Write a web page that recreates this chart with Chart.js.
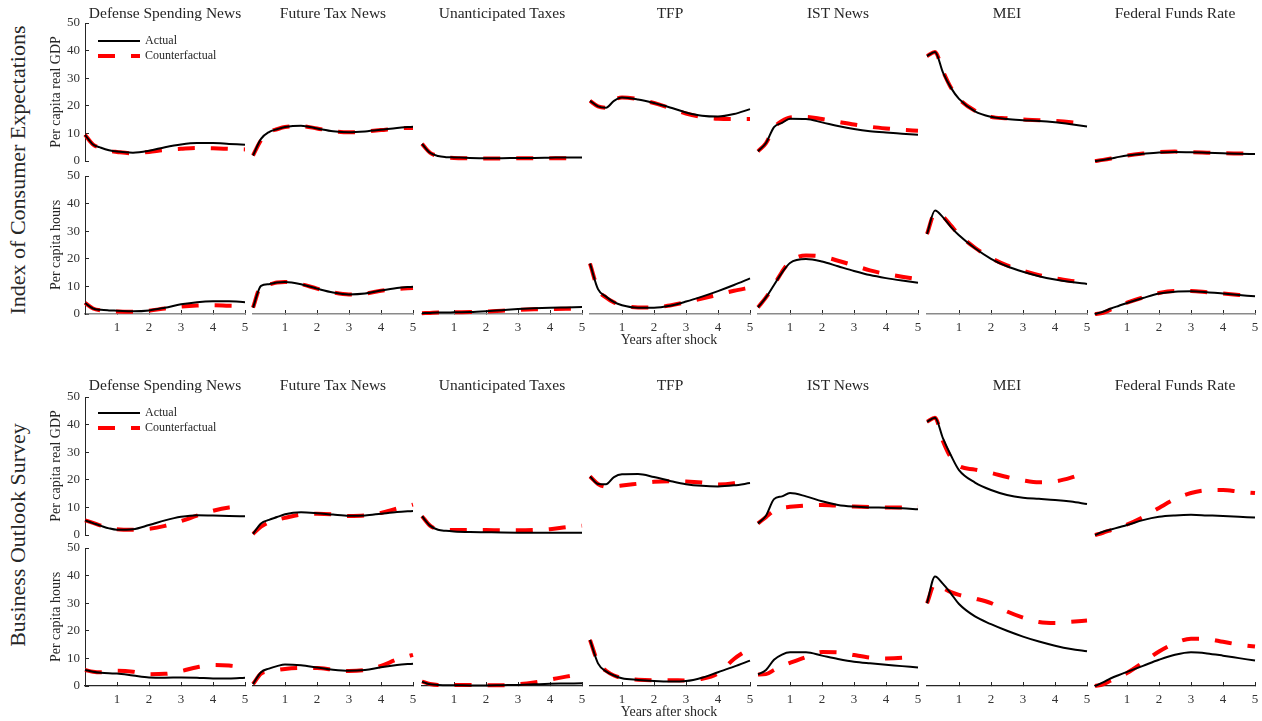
<!DOCTYPE html>
<html>
<head>
<meta charset="utf-8">
<script src="https://cdn.jsdelivr.net/npm/chart.js@4.4.1/dist/chart.umd.min.js"></script>
<style>
  body { margin: 0; background: #fff; width: 1262px; height: 721px; overflow: hidden; position: relative;
         font-family: "Liberation Serif", serif; color: #262626; }
  canvas { position: absolute; }
  .t { position: absolute; white-space: nowrap; transform: translate(-50%, -50%); }
  .v { transform: translate(-50%, -50%) rotate(-90deg); }
</style>
</head>
<body>
<script>
// quarters after the shock, in years
const years = [0, 0.25, 0.5, 0.75, 1, 1.5, 2, 2.5, 3, 3.5, 4, 4.5, 5];
const shocks = ['Defense Spending News', 'Future Tax News', 'Unanticipated Taxes', 'TFP', 'IST News', 'MEI', 'Federal Funds Rate'];
const surveys = ['Index of Consumer Expectations', 'Business Outlook Survey'];
const variables = ['Per capita real GDP', 'Per capita hours'];
const yTicks = [0, 10, 20, 30, 40, 50];
const xTicks = [1, 2, 3, 4, 5];

// Index of Consumer Expectations - GDP
const iceGdpActual = [
  [9.5, 6.0, 4.8, 3.9, 3.4, 3.0, 3.7, 5.0, 6.0, 6.5, 6.5, 6.2, 5.9],
  [2.0, 8.0, 10.5, 11.5, 12.3, 12.8, 11.8, 10.8, 10.4, 10.7, 11.3, 12.0, 12.4],
  [6.2, 3.0, 1.8, 1.4, 1.3, 1.1, 1.0, 1.0, 1.1, 1.1, 1.2, 1.3, 1.3],
  [21.8, 19.8, 19.3, 21.8, 23.0, 22.3, 21.0, 19.4, 17.6, 16.4, 16.1, 17.0, 18.8],
  [3.5, 6.5, 12.3, 13.8, 15.3, 15.2, 14.0, 12.7, 11.6, 10.8, 10.3, 9.9, 9.5],
  [38.0, 39.5, 32.0, 26.5, 22.5, 18.0, 16.0, 15.2, 14.8, 14.5, 14.0, 13.3, 12.5],
  [0, 0.4, 0.9, 1.5, 2.0, 2.6, 3.1, 3.3, 3.2, 3.0, 2.8, 2.6, 2.5]
];
const iceGdpCounter = [
  [9.5, 6.0, 4.7, 3.7, 3.3, 2.8, 3.3, 4.0, 4.4, 4.7, 4.6, 4.4, 4.2],
  [2.0, 7.5, 10.5, 11.5, 12.3, 12.6, 11.8, 10.8, 10.4, 10.7, 11.2, 11.8, 12.0],
  [6.2, 3.0, 1.8, 1.3, 1.1, 1.0, 0.9, 0.9, 1.0, 1.0, 1.0, 1.0, 1.0],
  [21.8, 19.8, 19.3, 22.0, 23.0, 22.4, 21.0, 19.2, 17.2, 15.9, 15.3, 15.2, 15.2],
  [3.5, 6.5, 12.0, 14.5, 15.8, 16.0, 15.2, 14.2, 13.2, 12.4, 11.8, 11.3, 11.0],
  [38.0, 39.5, 32.5, 26.5, 22.5, 18.2, 16.0, 15.5, 15.0, 14.8, 14.5, 14.0, 13.3],
  [0, 0.4, 0.9, 1.5, 2.0, 2.7, 3.2, 3.4, 3.2, 3.0, 2.8, 2.7, 2.6]
];
// Index of Consumer Expectations - hours
const iceHoursActual = [
  [4.0, 2.0, 1.5, 1.3, 1.2, 1.0, 1.3, 2.3, 3.5, 4.3, 4.6, 4.6, 4.3],
  [2.3, 10.2, 10.8, 11.4, 11.6, 10.8, 9.2, 7.8, 7.1, 7.4, 8.5, 9.4, 9.9],
  [0.3, 0.4, 0.5, 0.5, 0.6, 0.7, 1.0, 1.4, 1.8, 2.1, 2.3, 2.4, 2.5],
  [18.3, 9.0, 6.3, 4.3, 3.2, 2.3, 2.3, 3.0, 4.5, 6.3, 8.3, 10.5, 12.9],
  [2.4, 6.0, 10.5, 15.0, 18.5, 19.9, 19.0, 17.3, 15.6, 14.1, 13.0, 12.1, 11.3],
  [29.0, 37.5, 35.0, 31.5, 28.5, 23.8, 20.0, 17.3, 15.3, 13.7, 12.5, 11.6, 10.9],
  [0, 0.8, 2.0, 3.0, 4.0, 5.8, 7.4, 8.1, 8.2, 7.9, 7.4, 6.9, 6.4]
];
const iceHoursCounter = [
  [4.0, 2.0, 1.3, 1.1, 0.9, 0.8, 1.2, 2.0, 2.7, 3.1, 3.2, 3.0, 2.9],
  [2.3, 10.2, 10.8, 11.4, 11.6, 10.8, 9.2, 7.8, 7.1, 7.4, 8.4, 9.1, 9.4],
  [0.3, 0.4, 0.5, 0.5, 0.6, 0.7, 0.9, 1.2, 1.5, 1.7, 1.8, 1.9, 1.9],
  [18.3, 9.0, 6.0, 4.2, 3.2, 2.4, 2.4, 3.1, 4.3, 5.6, 7.0, 8.4, 9.6],
  [2.4, 6.0, 10.5, 15.3, 19.0, 21.2, 20.8, 19.3, 17.6, 15.8, 14.5, 13.5, 12.6],
  [29.0, 36.5, 35.3, 32.0, 28.8, 24.0, 20.3, 17.6, 15.7, 14.1, 12.9, 12.0, 11.2],
  [0, 0.4, 1.7, 3.0, 4.1, 6.0, 7.6, 8.3, 8.3, 7.9, 7.4, 6.9, 6.3]
];
// Business Outlook Survey - GDP
const bosGdpActual = [
  [5.3, 4.3, 3.3, 2.4, 1.9, 2.1, 3.6, 5.3, 6.6, 7.2, 7.1, 6.9, 6.8],
  [0.4, 4.2, 5.5, 6.5, 7.5, 8.2, 7.9, 7.4, 7.0, 7.1, 7.7, 8.3, 8.7],
  [6.8, 3.4, 1.9, 1.5, 1.3, 1.1, 1.0, 0.9, 0.85, 0.85, 0.85, 0.85, 0.85],
  [21.2, 18.5, 18.4, 21.0, 22.0, 22.1, 21.0, 19.6, 18.4, 17.8, 17.6, 18.0, 18.8],
  [4.2, 7.0, 13.0, 14.0, 15.2, 14.0, 12.2, 10.9, 10.3, 10.0, 9.9, 9.7, 9.3],
  [41.0, 42.5, 35.0, 28.8, 23.5, 19.0, 16.3, 14.5, 13.5, 13.1, 12.7, 12.1, 11.2],
  [0, 1.2, 2.0, 2.8, 3.6, 5.4, 6.6, 7.1, 7.3, 7.1, 6.9, 6.6, 6.3]
];
const bosGdpCounter = [
  [5.3, 4.4, 3.4, 2.6, 2.1, 1.9, 2.2, 3.3, 5.0, 7.0, 8.8, 10.0, 10.4],
  [0.4, 3.0, 4.6, 5.5, 6.2, 7.4, 7.7, 7.5, 6.9, 7.1, 8.0, 9.6, 11.0],
  [6.8, 3.4, 2.1, 1.9, 1.8, 1.8, 1.8, 1.7, 1.7, 1.8, 2.1, 2.8, 3.4],
  [21.2, 18.5, 17.5, 17.6, 17.9, 18.6, 19.3, 19.5, 19.4, 19.0, 18.3, 18.8, 20.2],
  [4.2, 6.5, 8.8, 9.8, 10.2, 10.7, 10.9, 10.6, 10.3, 10.1, 10.0, 10.0, 10.2],
  [41.0, 42.5, 34.0, 28.0, 25.0, 23.7, 22.5, 21.0, 19.8, 19.1, 19.4, 20.8, 22.8],
  [0, 0.8, 1.8, 2.8, 3.8, 6.5, 9.8, 13.0, 15.2, 16.2, 16.3, 15.7, 15.2]
];
// Business Outlook Survey - hours
const bosHoursActual = [
  [5.8, 5.2, 4.8, 4.6, 4.5, 3.8, 3.1, 3.0, 3.1, 3.0, 2.7, 2.7, 3.0],
  [0.7, 5.0, 6.3, 7.2, 7.8, 7.5, 6.7, 5.9, 5.5, 5.8, 6.8, 7.6, 8.1],
  [1.6, 0.6, 0.4, 0.3, 0.3, 0.2, 0.2, 0.3, 0.4, 0.6, 0.8, 0.9, 1.0],
  [16.7, 8.2, 5.3, 3.8, 2.8, 2.2, 1.8, 1.6, 1.8, 3.0, 5.0, 7.0, 9.2],
  [4.2, 5.8, 9.5, 11.4, 12.2, 12.2, 11.0, 9.8, 8.8, 8.2, 7.7, 7.2, 6.7],
  [30.0, 39.7, 37.0, 33.5, 29.7, 25.2, 22.4, 20.0, 17.9, 16.1, 14.6, 13.4, 12.6],
  [0, 1.3, 2.8, 4.0, 5.1, 7.3, 9.5, 11.3, 12.2, 11.8, 11.0, 10.1, 9.2]
];
const bosHoursCounter = [
  [5.8, 5.2, 5.0, 5.2, 5.5, 5.2, 4.3, 4.4, 5.4, 6.8, 7.6, 7.4, 6.8],
  [0.7, 4.5, 5.3, 5.8, 6.2, 6.5, 6.5, 5.9, 5.4, 5.8, 7.3, 9.6, 11.3],
  [1.6, 0.7, 0.4, 0.4, 0.4, 0.4, 0.3, 0.3, 0.6, 1.3, 2.3, 3.4, 4.4],
  [16.7, 8.5, 5.5, 3.8, 2.9, 2.3, 2.1, 2.1, 2.0, 2.6, 4.6, 9.8, 13.7],
  [4.2, 4.3, 5.8, 7.3, 8.4, 10.5, 12.3, 12.2, 11.2, 10.3, 10.0, 10.2, 10.8],
  [30.0, 37.0, 35.5, 34.0, 33.0, 31.7, 30.0, 27.0, 24.8, 23.2, 22.8, 23.3, 23.7],
  [0, 0.6, 2.0, 3.3, 4.7, 8.5, 12.5, 15.5, 17.1, 17.0, 16.0, 15.0, 14.3]
];

const actualRows = [[iceGdpActual, iceHoursActual], [bosGdpActual, bosHoursActual]];
const counterRows = [[iceGdpCounter, iceHoursCounter], [bosGdpCounter, bosHoursCounter]];

// layout (px)
const plotW = 160, plotH = 138;
const rowTop = [[23, 176], [397, 548]];
const panelLeft = c => Math.round(85 + 168.3 * c);
const xAxisColor = ['#8a8a8a', '#262626'];

function label(text, x, y, size, vertical) {
  const d = document.createElement('div');
  d.className = vertical ? 't v' : 't';
  d.textContent = text;
  d.style.left = x + 'px';
  d.style.top = y + 'px';
  d.style.fontSize = size + 'px';
  document.body.appendChild(d);
}

// legend drawn inside the first panel of each survey
const legendBox = {
  id: 'legendBox',
  afterDatasetsDraw(chart, args, opts) {
    const { ctx, chartArea: a } = chart;
    chart.data.datasets.forEach((ds, i) => {
      const y = a.top + opts.offset + i * 15;
      ctx.save();
      ctx.strokeStyle = ds.borderColor;
      ctx.lineWidth = ds.borderWidth;
      ctx.setLineDash(ds.borderDash || []);
      ctx.beginPath();
      ctx.moveTo(a.left + 13, y);
      ctx.lineTo(a.left + 55, y);
      ctx.stroke();
      ctx.setLineDash([]);
      ctx.fillStyle = '#262626';
      ctx.font = '12px "Liberation Serif"';
      ctx.textBaseline = 'middle';
      ctx.fillText(ds.label, a.left + 60, y);
      ctx.restore();
    });
  }
};

// pin a shown axis to a fixed size so every plot area lines up
const pinScale = (w, h) => s => {
  if (w !== null) s.width = w;
  if (h !== null) s.height = h;
  s.paddingLeft = s.paddingRight = s.paddingTop = s.paddingBottom = 0;
};

function makePanel(g, r, c) {
  const first = c === 0, bottom = r === 1;
  const padL = first ? 40 : 6, padR = 6, padT = 8, padB = bottom ? 24 : 6;
  const cv = document.createElement('canvas');
  cv.width = plotW + padL + padR;
  cv.height = plotH + padT + padB;
  cv.style.left = (panelLeft(c) - padL) + 'px';
  cv.style.top = (rowTop[g][r] - padT) + 'px';
  document.body.appendChild(cv);

  const act = actualRows[g][r][c], cf = counterRows[g][r][c];
  new Chart(cv, {
    type: 'line',
    data: {
      datasets: [
        { label: 'Actual', data: years.map((x, i) => ({ x, y: act[i] })),
          borderColor: '#000000', borderWidth: 2, clip: false },
        { label: 'Counterfactual', data: years.map((x, i) => ({ x, y: cf[i] })),
          borderColor: '#ff0000', borderWidth: 4, borderDash: [17, 16], clip: false }
      ]
    },
    options: {
      responsive: false,
      animation: false,
      events: [],
      layout: { autoPadding: false,
                padding: { left: first ? 0 : padL, right: padR, top: padT, bottom: bottom ? 0 : padB } },
      elements: { point: { radius: 0 }, line: { cubicInterpolationMode: 'monotone' } },
      plugins: {
        legend: { display: false },
        tooltip: { enabled: false },
        legendBox: { offset: g === 0 ? 18 : 16 }
      },
      scales: {
        x: {
          type: 'linear', min: 0, max: 5, display: bottom,
          afterBuildTicks: s => { s.ticks = xTicks.map(v => ({ value: v })); },
          afterFit: bottom ? pinScale(null, padB) : undefined,
          border: { display: true, color: xAxisColor[g], width: g === 0 ? 1.6 : 1.2 },
          grid: { drawOnChartArea: false, drawTicks: true, tickLength: -4, color: '#262626' },
          ticks: { color: '#333', font: { family: 'Liberation Serif', size: 13 }, padding: 10, maxRotation: 0 }
        },
        y: {
          min: 0, max: 50, display: first,
          afterBuildTicks: s => { s.ticks = yTicks.map(v => ({ value: v })); },
          afterFit: first ? pinScale(padL, null) : undefined,
          border: { display: true, color: '#262626', width: 1 },
          grid: { drawOnChartArea: false, drawTicks: true, tickLength: -4, color: '#262626' },
          ticks: { color: '#333', font: { family: 'Liberation Serif', size: 13 }, padding: 9 }
        }
      }
    },
    plugins: (r === 0 && c === 0) ? [legendBox] : []
  });
}

for (let g = 0; g < 2; g++) {
  for (let r = 0; r < 2; r++) {
    for (let c = 0; c < shocks.length; c++) makePanel(g, r, c);
  }
}

// text around the panels
const titleY = [13, 385], groupY = [170, 535], yearsY = [340, 712];
for (let g = 0; g < 2; g++) {
  shocks.forEach((s, c) => label(s, panelLeft(c) + plotW / 2, titleY[g], 15.5));
  label(surveys[g], 18, groupY[g], 22, true);
  variables.forEach((v, r) => label(v, 56, rowTop[g][r] + plotH / 2, 14, true));
  label('Years after shock', 669, yearsY[g], 14);
}
</script>
</body>
</html>
